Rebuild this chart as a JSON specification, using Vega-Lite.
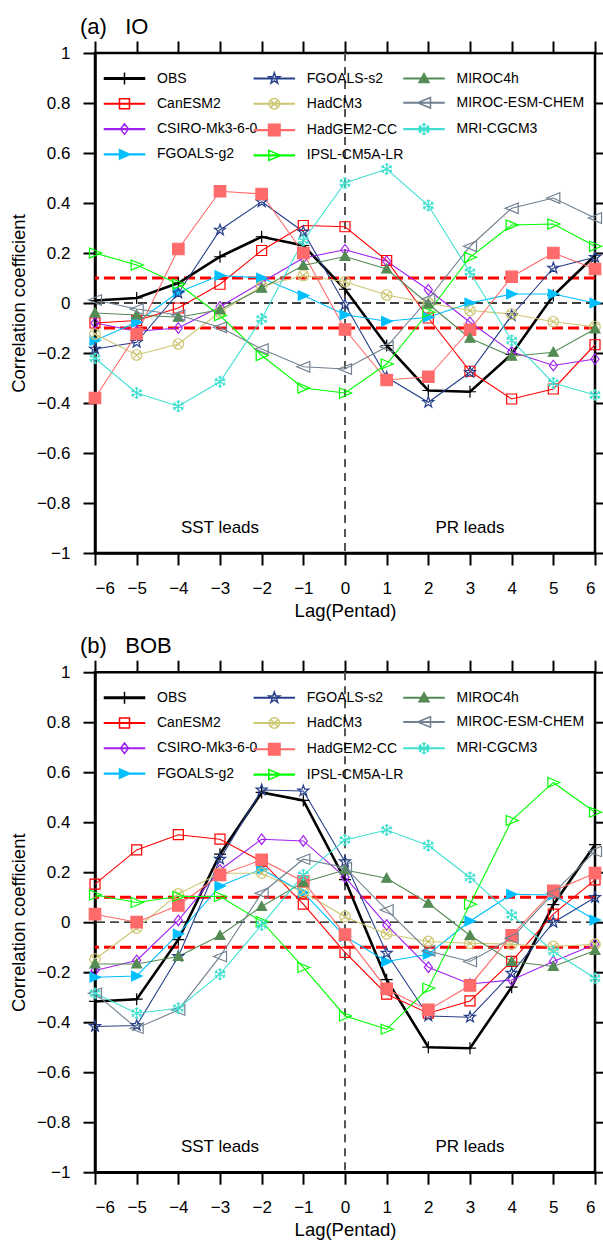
{
"$schema":"https://vega.github.io/schema/vega-lite/v6.json",
"background":"white",
"padding":{"left":8,"top":14,"right":0,"bottom":5},
"config":{
 "font":"Liberation Sans",
 "view":{"stroke":"black","strokeWidth":2.5},
 "axis":{"grid":false,"domainColor":"black","domainWidth":2.5,"tickColor":"black","tickWidth":2,"tickSize":12,"labelFontSize":17,"labelColor":"black","titleFontSize":18.5,"titleFontWeight":"normal","titleColor":"black","labelFont":"Liberation Sans","titleFont":"Liberation Sans"},
 "legend":{"labelFont":"Liberation Sans"},
 "title":{"fontWeight":"normal","color":"black","font":"Liberation Sans"}
},
"datasets":{
"io":[
{"model":"OBS","lag":-6,"r":0.01},{"model":"OBS","lag":-5,"r":0.02},{"model":"OBS","lag":-4,"r":0.08},{"model":"OBS","lag":-3,"r":0.185},{"model":"OBS","lag":-2,"r":0.265},{"model":"OBS","lag":-1,"r":0.23},{"model":"OBS","lag":0,"r":0.055},{"model":"OBS","lag":1,"r":-0.17},{"model":"OBS","lag":2,"r":-0.35},{"model":"OBS","lag":3,"r":-0.355},{"model":"OBS","lag":4,"r":-0.205},{"model":"OBS","lag":5,"r":0.03},{"model":"OBS","lag":6,"r":0.19},
{"model":"CanESM2","lag":-6,"r":-0.08},{"model":"CanESM2","lag":-5,"r":-0.07},{"model":"CanESM2","lag":-4,"r":-0.02},{"model":"CanESM2","lag":-3,"r":0.075},{"model":"CanESM2","lag":-2,"r":0.21},{"model":"CanESM2","lag":-1,"r":0.31},{"model":"CanESM2","lag":0,"r":0.305},{"model":"CanESM2","lag":1,"r":0.17},{"model":"CanESM2","lag":2,"r":-0.06},{"model":"CanESM2","lag":3,"r":-0.273},{"model":"CanESM2","lag":4,"r":-0.384},{"model":"CanESM2","lag":5,"r":-0.344},{"model":"CanESM2","lag":6,"r":-0.167},
{"model":"CSIRO-Mk3-6-0","lag":-6,"r":-0.08},{"model":"CSIRO-Mk3-6-0","lag":-5,"r":-0.113},{"model":"CSIRO-Mk3-6-0","lag":-4,"r":-0.1},{"model":"CSIRO-Mk3-6-0","lag":-3,"r":-0.015},{"model":"CSIRO-Mk3-6-0","lag":-2,"r":0.083},{"model":"CSIRO-Mk3-6-0","lag":-1,"r":0.18},{"model":"CSIRO-Mk3-6-0","lag":0,"r":0.213},{"model":"CSIRO-Mk3-6-0","lag":1,"r":0.167},{"model":"CSIRO-Mk3-6-0","lag":2,"r":0.053},{"model":"CSIRO-Mk3-6-0","lag":3,"r":-0.077},{"model":"CSIRO-Mk3-6-0","lag":4,"r":-0.195},{"model":"CSIRO-Mk3-6-0","lag":5,"r":-0.25},{"model":"CSIRO-Mk3-6-0","lag":6,"r":-0.224},
{"model":"FGOALS-g2","lag":-6,"r":-0.15},{"model":"FGOALS-g2","lag":-5,"r":-0.077},{"model":"FGOALS-g2","lag":-4,"r":0.043},{"model":"FGOALS-g2","lag":-3,"r":0.11},{"model":"FGOALS-g2","lag":-2,"r":0.1},{"model":"FGOALS-g2","lag":-1,"r":0.03},{"model":"FGOALS-g2","lag":0,"r":-0.047},{"model":"FGOALS-g2","lag":1,"r":-0.073},{"model":"FGOALS-g2","lag":2,"r":-0.057},{"model":"FGOALS-g2","lag":3,"r":0.0},{"model":"FGOALS-g2","lag":4,"r":0.036},{"model":"FGOALS-g2","lag":5,"r":0.036},{"model":"FGOALS-g2","lag":6,"r":0.0},
{"model":"FGOALS-s2","lag":-6,"r":-0.184},{"model":"FGOALS-s2","lag":-5,"r":-0.157},{"model":"FGOALS-s2","lag":-4,"r":0.04},{"model":"FGOALS-s2","lag":-3,"r":0.292},{"model":"FGOALS-s2","lag":-2,"r":0.405},{"model":"FGOALS-s2","lag":-1,"r":0.285},{"model":"FGOALS-s2","lag":0,"r":-0.006},{"model":"FGOALS-s2","lag":1,"r":-0.297},{"model":"FGOALS-s2","lag":2,"r":-0.397},{"model":"FGOALS-s2","lag":3,"r":-0.277},{"model":"FGOALS-s2","lag":4,"r":-0.05},{"model":"FGOALS-s2","lag":5,"r":0.14},{"model":"FGOALS-s2","lag":6,"r":0.183},
{"model":"HadCM3","lag":-6,"r":-0.124},{"model":"HadCM3","lag":-5,"r":-0.208},{"model":"HadCM3","lag":-4,"r":-0.164},{"model":"HadCM3","lag":-3,"r":-0.037},{"model":"HadCM3","lag":-2,"r":0.067},{"model":"HadCM3","lag":-1,"r":0.11},{"model":"HadCM3","lag":0,"r":0.085},{"model":"HadCM3","lag":1,"r":0.032},{"model":"HadCM3","lag":2,"r":0.0},{"model":"HadCM3","lag":3,"r":-0.03},{"model":"HadCM3","lag":4,"r":-0.044},{"model":"HadCM3","lag":5,"r":-0.075},{"model":"HadCM3","lag":6,"r":-0.095},
{"model":"HadGEM2-CC","lag":-6,"r":-0.38},{"model":"HadGEM2-CC","lag":-5,"r":-0.124},{"model":"HadGEM2-CC","lag":-4,"r":0.216},{"model":"HadGEM2-CC","lag":-3,"r":0.447},{"model":"HadGEM2-CC","lag":-2,"r":0.436},{"model":"HadGEM2-CC","lag":-1,"r":0.2},{"model":"HadGEM2-CC","lag":0,"r":-0.106},{"model":"HadGEM2-CC","lag":1,"r":-0.308},{"model":"HadGEM2-CC","lag":2,"r":-0.295},{"model":"HadGEM2-CC","lag":3,"r":-0.107},{"model":"HadGEM2-CC","lag":4,"r":0.105},{"model":"HadGEM2-CC","lag":5,"r":0.2},{"model":"HadGEM2-CC","lag":6,"r":0.136},
{"model":"IPSL-CM5A-LR","lag":-6,"r":0.2},{"model":"IPSL-CM5A-LR","lag":-5,"r":0.152},{"model":"IPSL-CM5A-LR","lag":-4,"r":0.076},{"model":"IPSL-CM5A-LR","lag":-3,"r":-0.05},{"model":"IPSL-CM5A-LR","lag":-2,"r":-0.21},{"model":"IPSL-CM5A-LR","lag":-1,"r":-0.34},{"model":"IPSL-CM5A-LR","lag":0,"r":-0.36},{"model":"IPSL-CM5A-LR","lag":1,"r":-0.244},{"model":"IPSL-CM5A-LR","lag":2,"r":-0.037},{"model":"IPSL-CM5A-LR","lag":3,"r":0.183},{"model":"IPSL-CM5A-LR","lag":4,"r":0.312},{"model":"IPSL-CM5A-LR","lag":5,"r":0.316},{"model":"IPSL-CM5A-LR","lag":6,"r":0.227},
{"model":"MIROC4h","lag":-6,"r":-0.04},{"model":"MIROC4h","lag":-5,"r":-0.048},{"model":"MIROC4h","lag":-4,"r":-0.057},{"model":"MIROC4h","lag":-3,"r":-0.027},{"model":"MIROC4h","lag":-2,"r":0.059},{"model":"MIROC4h","lag":-1,"r":0.15},{"model":"MIROC4h","lag":0,"r":0.186},{"model":"MIROC4h","lag":1,"r":0.136},{"model":"MIROC4h","lag":2,"r":-0.004},{"model":"MIROC4h","lag":3,"r":-0.141},{"model":"MIROC4h","lag":4,"r":-0.213},{"model":"MIROC4h","lag":5,"r":-0.197},{"model":"MIROC4h","lag":6,"r":-0.104},
{"model":"MIROC-ESM-CHEM","lag":-6,"r":0.012},{"model":"MIROC-ESM-CHEM","lag":-5,"r":-0.024},{"model":"MIROC-ESM-CHEM","lag":-4,"r":-0.048},{"model":"MIROC-ESM-CHEM","lag":-3,"r":-0.097},{"model":"MIROC-ESM-CHEM","lag":-2,"r":-0.184},{"model":"MIROC-ESM-CHEM","lag":-1,"r":-0.255},{"model":"MIROC-ESM-CHEM","lag":0,"r":-0.264},{"model":"MIROC-ESM-CHEM","lag":1,"r":-0.175},{"model":"MIROC-ESM-CHEM","lag":2,"r":0.016},{"model":"MIROC-ESM-CHEM","lag":3,"r":0.227},{"model":"MIROC-ESM-CHEM","lag":4,"r":0.379},{"model":"MIROC-ESM-CHEM","lag":5,"r":0.42},{"model":"MIROC-ESM-CHEM","lag":6,"r":0.34},
{"model":"MRI-CGCM3","lag":-6,"r":-0.221},{"model":"MRI-CGCM3","lag":-5,"r":-0.36},{"model":"MRI-CGCM3","lag":-4,"r":-0.413},{"model":"MRI-CGCM3","lag":-3,"r":-0.315},{"model":"MRI-CGCM3","lag":-2,"r":-0.064},{"model":"MRI-CGCM3","lag":-1,"r":0.25},{"model":"MRI-CGCM3","lag":0,"r":0.48},{"model":"MRI-CGCM3","lag":1,"r":0.536},{"model":"MRI-CGCM3","lag":2,"r":0.39},{"model":"MRI-CGCM3","lag":3,"r":0.123},{"model":"MRI-CGCM3","lag":4,"r":-0.15},{"model":"MRI-CGCM3","lag":5,"r":-0.32},{"model":"MRI-CGCM3","lag":6,"r":-0.368}
],
"bob":[
{"model":"OBS","lag":-6,"r":-0.317},{"model":"OBS","lag":-5,"r":-0.308},{"model":"OBS","lag":-4,"r":-0.07},{"model":"OBS","lag":-3,"r":0.272},{"model":"OBS","lag":-2,"r":0.519},{"model":"OBS","lag":-1,"r":0.487},{"model":"OBS","lag":0,"r":0.17},{"model":"OBS","lag":1,"r":-0.23},{"model":"OBS","lag":2,"r":-0.5},{"model":"OBS","lag":3,"r":-0.504},{"model":"OBS","lag":4,"r":-0.26},{"model":"OBS","lag":5,"r":0.07},{"model":"OBS","lag":6,"r":0.31},
{"model":"CanESM2","lag":-6,"r":0.152},{"model":"CanESM2","lag":-5,"r":0.289},{"model":"CanESM2","lag":-4,"r":0.35},{"model":"CanESM2","lag":-3,"r":0.332},{"model":"CanESM2","lag":-2,"r":0.243},{"model":"CanESM2","lag":-1,"r":0.072},{"model":"CanESM2","lag":0,"r":-0.121},{"model":"CanESM2","lag":1,"r":-0.288},{"model":"CanESM2","lag":2,"r":-0.364},{"model":"CanESM2","lag":3,"r":-0.315},{"model":"CanESM2","lag":4,"r":-0.157},{"model":"CanESM2","lag":5,"r":0.032},{"model":"CanESM2","lag":6,"r":0.169},
{"model":"CSIRO-Mk3-6-0","lag":-6,"r":-0.193},{"model":"CSIRO-Mk3-6-0","lag":-5,"r":-0.153},{"model":"CSIRO-Mk3-6-0","lag":-4,"r":0.007},{"model":"CSIRO-Mk3-6-0","lag":-3,"r":0.209},{"model":"CSIRO-Mk3-6-0","lag":-2,"r":0.332},{"model":"CSIRO-Mk3-6-0","lag":-1,"r":0.325},{"model":"CSIRO-Mk3-6-0","lag":0,"r":0.18},{"model":"CSIRO-Mk3-6-0","lag":1,"r":-0.011},{"model":"CSIRO-Mk3-6-0","lag":2,"r":-0.18},{"model":"CSIRO-Mk3-6-0","lag":3,"r":-0.247},{"model":"CSIRO-Mk3-6-0","lag":4,"r":-0.231},{"model":"CSIRO-Mk3-6-0","lag":5,"r":-0.157},{"model":"CSIRO-Mk3-6-0","lag":6,"r":-0.088},
{"model":"FGOALS-g2","lag":-6,"r":-0.22},{"model":"FGOALS-g2","lag":-5,"r":-0.215},{"model":"FGOALS-g2","lag":-4,"r":-0.047},{"model":"FGOALS-g2","lag":-3,"r":0.145},{"model":"FGOALS-g2","lag":-2,"r":0.212},{"model":"FGOALS-g2","lag":-1,"r":0.119},{"model":"FGOALS-g2","lag":0,"r":-0.057},{"model":"FGOALS-g2","lag":1,"r":-0.157},{"model":"FGOALS-g2","lag":2,"r":-0.128},{"model":"FGOALS-g2","lag":3,"r":0.005},{"model":"FGOALS-g2","lag":4,"r":0.112},{"model":"FGOALS-g2","lag":5,"r":0.109},{"model":"FGOALS-g2","lag":6,"r":0.009},
{"model":"FGOALS-s2","lag":-6,"r":-0.417},{"model":"FGOALS-s2","lag":-5,"r":-0.413},{"model":"FGOALS-s2","lag":-4,"r":-0.137},{"model":"FGOALS-s2","lag":-3,"r":0.252},{"model":"FGOALS-s2","lag":-2,"r":0.529},{"model":"FGOALS-s2","lag":-1,"r":0.525},{"model":"FGOALS-s2","lag":0,"r":0.242},{"model":"FGOALS-s2","lag":1,"r":-0.124},{"model":"FGOALS-s2","lag":2,"r":-0.375},{"model":"FGOALS-s2","lag":3,"r":-0.38},{"model":"FGOALS-s2","lag":4,"r":-0.204},{"model":"FGOALS-s2","lag":5,"r":-0.001},{"model":"FGOALS-s2","lag":6,"r":0.099},
{"model":"HadCM3","lag":-6,"r":-0.148},{"model":"HadCM3","lag":-5,"r":-0.024},{"model":"HadCM3","lag":-4,"r":0.113},{"model":"HadCM3","lag":-3,"r":0.196},{"model":"HadCM3","lag":-2,"r":0.196},{"model":"HadCM3","lag":-1,"r":0.12},{"model":"HadCM3","lag":0,"r":0.022},{"model":"HadCM3","lag":1,"r":-0.047},{"model":"HadCM3","lag":2,"r":-0.077},{"model":"HadCM3","lag":3,"r":-0.084},{"model":"HadCM3","lag":4,"r":-0.088},{"model":"HadCM3","lag":5,"r":-0.097},{"model":"HadCM3","lag":6,"r":-0.088},
{"model":"HadGEM2-CC","lag":-6,"r":0.032},{"model":"HadGEM2-CC","lag":-5,"r":0.0},{"model":"HadGEM2-CC","lag":-4,"r":0.067},{"model":"HadGEM2-CC","lag":-3,"r":0.189},{"model":"HadGEM2-CC","lag":-2,"r":0.249},{"model":"HadGEM2-CC","lag":-1,"r":0.163},{"model":"HadGEM2-CC","lag":0,"r":-0.05},{"model":"HadGEM2-CC","lag":1,"r":-0.267},{"model":"HadGEM2-CC","lag":2,"r":-0.351},{"model":"HadGEM2-CC","lag":3,"r":-0.253},{"model":"HadGEM2-CC","lag":4,"r":-0.053},{"model":"HadGEM2-CC","lag":5,"r":0.125},{"model":"HadGEM2-CC","lag":6,"r":0.196},
{"model":"IPSL-CM5A-LR","lag":-6,"r":0.109},{"model":"IPSL-CM5A-LR","lag":-5,"r":0.079},{"model":"IPSL-CM5A-LR","lag":-4,"r":0.103},{"model":"IPSL-CM5A-LR","lag":-3,"r":0.103},{"model":"IPSL-CM5A-LR","lag":-2,"r":0.003},{"model":"IPSL-CM5A-LR","lag":-1,"r":-0.181},{"model":"IPSL-CM5A-LR","lag":0,"r":-0.375},{"model":"IPSL-CM5A-LR","lag":1,"r":-0.428},{"model":"IPSL-CM5A-LR","lag":2,"r":-0.264},{"model":"IPSL-CM5A-LR","lag":3,"r":0.072},{"model":"IPSL-CM5A-LR","lag":4,"r":0.407},{"model":"IPSL-CM5A-LR","lag":5,"r":0.559},{"model":"IPSL-CM5A-LR","lag":6,"r":0.44},
{"model":"MIROC4h","lag":-6,"r":-0.167},{"model":"MIROC4h","lag":-5,"r":-0.167},{"model":"MIROC4h","lag":-4,"r":-0.137},{"model":"MIROC4h","lag":-3,"r":-0.053},{"model":"MIROC4h","lag":-2,"r":0.063},{"model":"MIROC4h","lag":-1,"r":0.16},{"model":"MIROC4h","lag":0,"r":0.209},{"model":"MIROC4h","lag":1,"r":0.176},{"model":"MIROC4h","lag":2,"r":0.076},{"model":"MIROC4h","lag":3,"r":-0.053},{"model":"MIROC4h","lag":4,"r":-0.157},{"model":"MIROC4h","lag":5,"r":-0.177},{"model":"MIROC4h","lag":6,"r":-0.113},
{"model":"MIROC-ESM-CHEM","lag":-6,"r":-0.284},{"model":"MIROC-ESM-CHEM","lag":-5,"r":-0.424},{"model":"MIROC-ESM-CHEM","lag":-4,"r":-0.351},{"model":"MIROC-ESM-CHEM","lag":-3,"r":-0.137},{"model":"MIROC-ESM-CHEM","lag":-2,"r":0.116},{"model":"MIROC-ESM-CHEM","lag":-1,"r":0.252},{"model":"MIROC-ESM-CHEM","lag":0,"r":0.219},{"model":"MIROC-ESM-CHEM","lag":1,"r":0.049},{"model":"MIROC-ESM-CHEM","lag":2,"r":-0.115},{"model":"MIROC-ESM-CHEM","lag":3,"r":-0.157},{"model":"MIROC-ESM-CHEM","lag":4,"r":-0.064},{"model":"MIROC-ESM-CHEM","lag":5,"r":0.116},{"model":"MIROC-ESM-CHEM","lag":6,"r":0.283},
{"model":"MRI-CGCM3","lag":-6,"r":-0.284},{"model":"MRI-CGCM3","lag":-5,"r":-0.364},{"model":"MRI-CGCM3","lag":-4,"r":-0.344},{"model":"MRI-CGCM3","lag":-3,"r":-0.208},{"model":"MRI-CGCM3","lag":-2,"r":-0.011},{"model":"MRI-CGCM3","lag":-1,"r":0.189},{"model":"MRI-CGCM3","lag":0,"r":0.329},{"model":"MRI-CGCM3","lag":1,"r":0.369},{"model":"MRI-CGCM3","lag":2,"r":0.307},{"model":"MRI-CGCM3","lag":3,"r":0.179},{"model":"MRI-CGCM3","lag":4,"r":0.029},{"model":"MRI-CGCM3","lag":5,"r":-0.117},{"model":"MRI-CGCM3","lag":6,"r":-0.224}
]
},
"spacing":119.2,
"bounds":"flush",
"resolve":{"scale":{"stroke":"independent","shape":"independent","fill":"independent","strokeWidth":"independent"}},
"vconcat":[
{
 "width":500,"height":500,
 "title":{"text":"(a)\u00a0\u00a0\u00a0IO","anchor":"start","frame":"group","fontSize":22,"dx":-15,"offset":-16,"baseline":"alphabetic"},
 "data":{"name":"io"},
 "resolve":{"axis":{"x":"independent","y":"independent"},"scale":{"stroke":"independent"}},
 "layer":[
  {"data":{"values":[{}]},"mark":{"type":"rule","color":"#FF0000","strokeWidth":3,"strokeDash":[11,5]},"encoding":{"y":{"datum":0.1,"type":"quantitative","scale":{"domain":[-1,1],"nice":false},"axis":null}}},
  {"data":{"values":[{}]},"mark":{"type":"rule","color":"#FF0000","strokeWidth":3,"strokeDash":[11,5]},"encoding":{"y":{"datum":-0.1,"type":"quantitative","scale":{"domain":[-1,1],"nice":false},"axis":null}}},
  {"data":{"values":[{}]},"mark":{"type":"rule","color":"black","strokeWidth":1.3,"strokeDash":[9,5]},"encoding":{"y":{"datum":0,"type":"quantitative","scale":{"domain":[-1,1],"nice":false},"axis":{"orient":"right","values":[-1,-0.8,-0.6,-0.4,-0.2,0,0.2,0.4,0.6,0.8,1],"labels":false,"title":null,"domain":false}}}},
  {"data":{"values":[{}]},"mark":{"type":"rule","color":"#555555","strokeWidth":2,"strokeDash":[8,6]},"encoding":{"x":{"datum":0,"type":"quantitative","scale":{"domain":[-6,6],"nice":false,"zero":false},"axis":{"orient":"top","values":[-6,-5,-4,-3,-2,-1,0,1,2,3,4,5,6],"labels":false,"title":null,"domain":false}}}},
  {"transform":[{"filter":{"field":"model","oneOf":["OBS","CanESM2","CSIRO-Mk3-6-0","FGOALS-g2"]}}],
   "mark":{"type":"line"},
   "encoding":{
    "x":{"field":"lag","type":"quantitative","scale":{"domain":[-6,6],"nice":false,"zero":false},"axis":{"orient":"bottom","values":[-6,-5,-4,-3,-2,-1,0,1,2,3,4,5,6],"format":"d","title":"Lag(Pentad)","labelPadding":15,"titlePadding":5}},
    "y":{"field":"r","type":"quantitative","scale":{"domain":[-1,1],"nice":false},"axis":{"orient":"left","values":[-1,-0.8,-0.6,-0.4,-0.2,0,0.2,0.4,0.6,0.8,1],"format":".1~f","title":"Correlation coefficient","labelPadding":13,"titlePadding":8}},
    "stroke":{"field":"model","type":"nominal","scale":{"domain":["OBS","CanESM2","CSIRO-Mk3-6-0","FGOALS-g2"],"range":["#000000","#FF0000","#A020F0","#00BFFF"]},
     "legend":{"title":null,"orient":"none","legendX":8.5,"legendY":17.5,"direction":"vertical","columns":1,"rowPadding":8.3,"padding":0,"labelFontSize":14,"labelColor":"black","labelLimit":400,"symbolSize":100,
      "encode":{"symbols":{"update":{
       "shape":{"signal":"['M-1.2,0H1.2M0,-1.2V1.2M-4,-0.14H4V0.14H-4Z','M-1,-1H1V1H-1ZM-4,-0.06H4V0.06H-4Z','M0,-1.05L0.8,0L0,1.05L-0.8,0ZM-4,-0.06H4V0.06H-4Z','M-1,-0.95L1.1,0L-1,0.95ZM-4,-0.06H4V0.06H-4Z','M0,-1.15L0.27,-0.373L1.094,-0.355L0.437,0.143L0.676,0.93L0,0.46L-0.676,0.93L-0.437,0.143L-1.094,-0.355L-0.27,-0.373ZM-4,-0.06H4V0.06H-4Z','M1.05,0A1.05,1.05,0,1,1,-1.05,0A1.05,1.05,0,1,1,1.05,0ZM-0.74,-0.74L0.74,0.74M-0.74,0.74L0.74,-0.74M-4,-0.06H4V0.06H-4Z','M-1.15,-1.15H1.15V1.15H-1.15ZM-4,-0.06H4V0.06H-4Z','M-1.1,-1L1.3,0L-1.1,1ZM-4,-0.06H4V0.06H-4Z','M0,-1L1,0.8H-1ZM-4,-0.06H4V0.06H-4Z','M1.3,-1.05L-1.3,0L1.3,1.05ZM-4,-0.06H4V0.06H-4Z','M0,-1.2V1.2M-1.04,-0.6L1.04,0.6M-1.04,0.6L1.04,-0.6M0.336,-1.02L0,-0.72L-0.336,-1.02M-0.336,1.02L0,0.72L0.336,1.02M1.051,-0.22L0.624,-0.36L0.715,-0.8M0.715,0.8L0.624,0.36L1.051,0.22M-0.715,0.8L-0.624,0.36L-1.051,0.22M-1.051,-0.22L-0.624,-0.36L-0.715,-0.8M-4,-0.06H4V0.06H-4Z'][indexof(['OBS','CanESM2','CSIRO-Mk3-6-0','FGOALS-g2','FGOALS-s2','HadCM3','HadGEM2-CC','IPSL-CM5A-LR','MIROC4h','MIROC-ESM-CHEM','MRI-CGCM3'], datum.value)]"},
       "stroke":{"signal":"['#000000','#FF0000','#A020F0','#00BFFF','#27408B','#CDC673','#FF6A6A','#00FF00','#548B54','#708090','#40E0D0'][indexof(['OBS','CanESM2','CSIRO-Mk3-6-0','FGOALS-g2','FGOALS-s2','HadCM3','HadGEM2-CC','IPSL-CM5A-LR','MIROC4h','MIROC-ESM-CHEM','MRI-CGCM3'], datum.value)]"},
       "fill":{"signal":"['transparent','transparent','transparent','#00BFFF','transparent','transparent','#FF6A6A','transparent','#548B54','transparent','transparent'][indexof(['OBS','CanESM2','CSIRO-Mk3-6-0','FGOALS-g2','FGOALS-s2','HadCM3','HadGEM2-CC','IPSL-CM5A-LR','MIROC4h','MIROC-ESM-CHEM','MRI-CGCM3'], datum.value)]"},
       "strokeWidth":{"value":1.5},"size":{"value":100},"opacity":{"value":1},"x":{"value":21},"y":{"value":8}}},
       "labels":{"update":{"x":{"value":53.5},"y":{"value":8},"baseline":{"value":"middle"}}}}}},
    "strokeWidth":{"field":"model","type":"nominal","scale":{"type":"ordinal","domain":["MRI-CGCM3","MIROC-ESM-CHEM","MIROC4h","IPSL-CM5A-LR","HadGEM2-CC","HadCM3","FGOALS-s2","FGOALS-g2","CSIRO-Mk3-6-0","CanESM2","OBS"],"range":[1.1,1.1,1.1,1.1,1.1,1.1,1.1,1.1,1.1,1.1,2.6]},"legend":null}
   }},
  {"transform":[{"filter":{"field":"model","oneOf":["FGOALS-s2","HadCM3","HadGEM2-CC","IPSL-CM5A-LR"]}}],
   "mark":{"type":"line","strokeWidth":1.1},
   "encoding":{
    "x":{"field":"lag","type":"quantitative","axis":null},
    "y":{"field":"r","type":"quantitative","axis":null},
    "stroke":{"field":"model","type":"nominal","scale":{"domain":["FGOALS-s2","HadCM3","HadGEM2-CC","IPSL-CM5A-LR"],"range":["#27408B","#CDC673","#FF6A6A","#00FF00"]},
     "legend":{"title":null,"orient":"none","legendX":158.3,"legendY":17.5,"direction":"vertical","columns":1,"rowPadding":8.3,"padding":0,"labelFontSize":14,"labelColor":"black","labelLimit":400,"symbolSize":100,
      "encode":{"symbols":{"update":{
       "shape":{"signal":"['M-1.2,0H1.2M0,-1.2V1.2M-4,-0.14H4V0.14H-4Z','M-1,-1H1V1H-1ZM-4,-0.06H4V0.06H-4Z','M0,-1.05L0.8,0L0,1.05L-0.8,0ZM-4,-0.06H4V0.06H-4Z','M-1,-0.95L1.1,0L-1,0.95ZM-4,-0.06H4V0.06H-4Z','M0,-1.15L0.27,-0.373L1.094,-0.355L0.437,0.143L0.676,0.93L0,0.46L-0.676,0.93L-0.437,0.143L-1.094,-0.355L-0.27,-0.373ZM-4,-0.06H4V0.06H-4Z','M1.05,0A1.05,1.05,0,1,1,-1.05,0A1.05,1.05,0,1,1,1.05,0ZM-0.74,-0.74L0.74,0.74M-0.74,0.74L0.74,-0.74M-4,-0.06H4V0.06H-4Z','M-1.15,-1.15H1.15V1.15H-1.15ZM-4,-0.06H4V0.06H-4Z','M-1.1,-1L1.3,0L-1.1,1ZM-4,-0.06H4V0.06H-4Z','M0,-1L1,0.8H-1ZM-4,-0.06H4V0.06H-4Z','M1.3,-1.05L-1.3,0L1.3,1.05ZM-4,-0.06H4V0.06H-4Z','M0,-1.2V1.2M-1.04,-0.6L1.04,0.6M-1.04,0.6L1.04,-0.6M0.336,-1.02L0,-0.72L-0.336,-1.02M-0.336,1.02L0,0.72L0.336,1.02M1.051,-0.22L0.624,-0.36L0.715,-0.8M0.715,0.8L0.624,0.36L1.051,0.22M-0.715,0.8L-0.624,0.36L-1.051,0.22M-1.051,-0.22L-0.624,-0.36L-0.715,-0.8M-4,-0.06H4V0.06H-4Z'][indexof(['OBS','CanESM2','CSIRO-Mk3-6-0','FGOALS-g2','FGOALS-s2','HadCM3','HadGEM2-CC','IPSL-CM5A-LR','MIROC4h','MIROC-ESM-CHEM','MRI-CGCM3'], datum.value)]"},
       "stroke":{"signal":"['#000000','#FF0000','#A020F0','#00BFFF','#27408B','#CDC673','#FF6A6A','#00FF00','#548B54','#708090','#40E0D0'][indexof(['OBS','CanESM2','CSIRO-Mk3-6-0','FGOALS-g2','FGOALS-s2','HadCM3','HadGEM2-CC','IPSL-CM5A-LR','MIROC4h','MIROC-ESM-CHEM','MRI-CGCM3'], datum.value)]"},
       "fill":{"signal":"['transparent','transparent','transparent','#00BFFF','transparent','transparent','#FF6A6A','transparent','#548B54','transparent','transparent'][indexof(['OBS','CanESM2','CSIRO-Mk3-6-0','FGOALS-g2','FGOALS-s2','HadCM3','HadGEM2-CC','IPSL-CM5A-LR','MIROC4h','MIROC-ESM-CHEM','MRI-CGCM3'], datum.value)]"},
       "strokeWidth":{"value":1.5},"size":{"value":100},"opacity":{"value":1},"x":{"value":21},"y":{"value":8}}},
       "labels":{"update":{"x":{"value":53.5},"y":{"value":8},"baseline":{"value":"middle"}}}}}}
   }},
  {"transform":[{"filter":{"field":"model","oneOf":["MIROC4h","MIROC-ESM-CHEM","MRI-CGCM3"]}}],
   "mark":{"type":"line","strokeWidth":1.1},
   "encoding":{
    "x":{"field":"lag","type":"quantitative","axis":null},
    "y":{"field":"r","type":"quantitative","axis":null},
    "stroke":{"field":"model","type":"nominal","scale":{"domain":["MIROC4h","MIROC-ESM-CHEM","MRI-CGCM3"],"range":["#548B54","#708090","#40E0D0"]},
     "legend":{"title":null,"orient":"none","legendX":308,"legendY":17.5,"direction":"vertical","columns":1,"rowPadding":8.3,"padding":0,"labelFontSize":14,"labelColor":"black","labelLimit":400,"symbolSize":100,
      "encode":{"symbols":{"update":{
       "shape":{"signal":"['M-1.2,0H1.2M0,-1.2V1.2M-4,-0.14H4V0.14H-4Z','M-1,-1H1V1H-1ZM-4,-0.06H4V0.06H-4Z','M0,-1.05L0.8,0L0,1.05L-0.8,0ZM-4,-0.06H4V0.06H-4Z','M-1,-0.95L1.1,0L-1,0.95ZM-4,-0.06H4V0.06H-4Z','M0,-1.15L0.27,-0.373L1.094,-0.355L0.437,0.143L0.676,0.93L0,0.46L-0.676,0.93L-0.437,0.143L-1.094,-0.355L-0.27,-0.373ZM-4,-0.06H4V0.06H-4Z','M1.05,0A1.05,1.05,0,1,1,-1.05,0A1.05,1.05,0,1,1,1.05,0ZM-0.74,-0.74L0.74,0.74M-0.74,0.74L0.74,-0.74M-4,-0.06H4V0.06H-4Z','M-1.15,-1.15H1.15V1.15H-1.15ZM-4,-0.06H4V0.06H-4Z','M-1.1,-1L1.3,0L-1.1,1ZM-4,-0.06H4V0.06H-4Z','M0,-1L1,0.8H-1ZM-4,-0.06H4V0.06H-4Z','M1.3,-1.05L-1.3,0L1.3,1.05ZM-4,-0.06H4V0.06H-4Z','M0,-1.2V1.2M-1.04,-0.6L1.04,0.6M-1.04,0.6L1.04,-0.6M0.336,-1.02L0,-0.72L-0.336,-1.02M-0.336,1.02L0,0.72L0.336,1.02M1.051,-0.22L0.624,-0.36L0.715,-0.8M0.715,0.8L0.624,0.36L1.051,0.22M-0.715,0.8L-0.624,0.36L-1.051,0.22M-1.051,-0.22L-0.624,-0.36L-0.715,-0.8M-4,-0.06H4V0.06H-4Z'][indexof(['OBS','CanESM2','CSIRO-Mk3-6-0','FGOALS-g2','FGOALS-s2','HadCM3','HadGEM2-CC','IPSL-CM5A-LR','MIROC4h','MIROC-ESM-CHEM','MRI-CGCM3'], datum.value)]"},
       "stroke":{"signal":"['#000000','#FF0000','#A020F0','#00BFFF','#27408B','#CDC673','#FF6A6A','#00FF00','#548B54','#708090','#40E0D0'][indexof(['OBS','CanESM2','CSIRO-Mk3-6-0','FGOALS-g2','FGOALS-s2','HadCM3','HadGEM2-CC','IPSL-CM5A-LR','MIROC4h','MIROC-ESM-CHEM','MRI-CGCM3'], datum.value)]"},
       "fill":{"signal":"['transparent','transparent','transparent','#00BFFF','transparent','transparent','#FF6A6A','transparent','#548B54','transparent','transparent'][indexof(['OBS','CanESM2','CSIRO-Mk3-6-0','FGOALS-g2','FGOALS-s2','HadCM3','HadGEM2-CC','IPSL-CM5A-LR','MIROC4h','MIROC-ESM-CHEM','MRI-CGCM3'], datum.value)]"},
       "strokeWidth":{"value":1.5},"size":{"value":100},"opacity":{"value":1},"x":{"value":21},"y":{"value":8}}},
       "labels":{"update":{"x":{"value":53.5},"y":{"value":8},"baseline":{"value":"middle"}}}}}}
   }},
  {"mark":{"type":"point","size":100,"strokeWidth":1.2,"opacity":1},
   "encoding":{
    "x":{"field":"lag","type":"quantitative","axis":null},
    "y":{"field":"r","type":"quantitative","axis":null},
    "stroke":{"field":"model","type":"nominal","scale":{"domain":["CSIRO-Mk3-6-0","FGOALS-g2","FGOALS-s2","HadCM3","HadGEM2-CC","IPSL-CM5A-LR","MIROC4h","MIROC-ESM-CHEM","MRI-CGCM3","OBS","CanESM2"],"range":["#A020F0","#00BFFF","#27408B","#CDC673","#FF6A6A","#00FF00","#548B54","#708090","#40E0D0","#000000","#FF0000"]},"legend":null},
    "fill":{"field":"model","type":"nominal","scale":{"domain":["FGOALS-g2","FGOALS-s2","HadCM3","HadGEM2-CC","IPSL-CM5A-LR","MIROC4h","MIROC-ESM-CHEM","MRI-CGCM3","OBS","CanESM2","CSIRO-Mk3-6-0"],"range":["#00BFFF","transparent","transparent","#FF6A6A","transparent","#548B54","transparent","transparent","transparent","transparent","transparent"]},"legend":null},
    "shape":{"field":"model","type":"nominal","scale":{"domain":["OBS","CanESM2","CSIRO-Mk3-6-0","FGOALS-g2","FGOALS-s2","HadCM3","HadGEM2-CC","IPSL-CM5A-LR","MIROC4h","MIROC-ESM-CHEM","MRI-CGCM3"],"range":["M-1.2,0H1.2M0,-1.2V1.2","M-1,-1H1V1H-1Z","M0,-1.05L0.8,0L0,1.05L-0.8,0Z","M-1,-0.95L1.1,0L-1,0.95Z","M0,-1.15L0.27,-0.373L1.094,-0.355L0.437,0.143L0.676,0.93L0,0.46L-0.676,0.93L-0.437,0.143L-1.094,-0.355L-0.27,-0.373Z","M1.05,0A1.05,1.05,0,1,1,-1.05,0A1.05,1.05,0,1,1,1.05,0ZM-0.74,-0.74L0.74,0.74M-0.74,0.74L0.74,-0.74","M-1.15,-1.15H1.15V1.15H-1.15Z","M-1.1,-1L1.3,0L-1.1,1Z","M0,-1L1,0.8H-1Z","M1.3,-1.05L-1.3,0L1.3,1.05Z","M0,-1.2V1.2M-1.04,-0.6L1.04,0.6M-1.04,0.6L1.04,-0.6M0.336,-1.02L0,-0.72L-0.336,-1.02M-0.336,1.02L0,0.72L0.336,1.02M1.051,-0.22L0.624,-0.36L0.715,-0.8M0.715,0.8L0.624,0.36L1.051,0.22M-0.715,0.8L-0.624,0.36L-1.051,0.22M-1.051,-0.22L-0.624,-0.36L-0.715,-0.8"]},"legend":null}
   }},
  {"data":{"values":[{}]},"mark":{"type":"text","text":"SST leads","fontSize":17,"baseline":"middle","align":"center","color":"black"},"encoding":{"x":{"datum":-3,"type":"quantitative","axis":null},"y":{"datum":-0.9,"type":"quantitative","axis":null}}},
  {"data":{"values":[{}]},"mark":{"type":"text","text":"PR leads","fontSize":17,"baseline":"middle","align":"center","color":"black"},"encoding":{"x":{"datum":3,"type":"quantitative","axis":null},"y":{"datum":-0.9,"type":"quantitative","axis":null}}}
 ]
},
{
 "width":500,"height":500,
 "title":{"text":"(b)\u00a0\u00a0\u00a0BOB","anchor":"start","frame":"group","fontSize":22,"dx":-15,"offset":-16,"baseline":"alphabetic"},
 "data":{"name":"bob"},
 "resolve":{"axis":{"x":"independent","y":"independent"},"scale":{"stroke":"independent"}},
 "layer":[
  {"data":{"values":[{}]},"mark":{"type":"rule","color":"#FF0000","strokeWidth":3,"strokeDash":[11,5]},"encoding":{"y":{"datum":0.1,"type":"quantitative","scale":{"domain":[-1,1],"nice":false},"axis":null}}},
  {"data":{"values":[{}]},"mark":{"type":"rule","color":"#FF0000","strokeWidth":3,"strokeDash":[11,5]},"encoding":{"y":{"datum":-0.1,"type":"quantitative","scale":{"domain":[-1,1],"nice":false},"axis":null}}},
  {"data":{"values":[{}]},"mark":{"type":"rule","color":"black","strokeWidth":1.3,"strokeDash":[9,5]},"encoding":{"y":{"datum":0,"type":"quantitative","scale":{"domain":[-1,1],"nice":false},"axis":{"orient":"right","values":[-1,-0.8,-0.6,-0.4,-0.2,0,0.2,0.4,0.6,0.8,1],"labels":false,"title":null,"domain":false}}}},
  {"data":{"values":[{}]},"mark":{"type":"rule","color":"#555555","strokeWidth":2,"strokeDash":[8,6]},"encoding":{"x":{"datum":0,"type":"quantitative","scale":{"domain":[-6,6],"nice":false,"zero":false},"axis":{"orient":"top","values":[-6,-5,-4,-3,-2,-1,0,1,2,3,4,5,6],"labels":false,"title":null,"domain":false}}}},
  {"transform":[{"filter":{"field":"model","oneOf":["OBS","CanESM2","CSIRO-Mk3-6-0","FGOALS-g2"]}}],
   "mark":{"type":"line"},
   "encoding":{
    "x":{"field":"lag","type":"quantitative","scale":{"domain":[-6,6],"nice":false,"zero":false},"axis":{"orient":"bottom","values":[-6,-5,-4,-3,-2,-1,0,1,2,3,4,5,6],"format":"d","title":"Lag(Pentad)","labelPadding":15,"titlePadding":5}},
    "y":{"field":"r","type":"quantitative","scale":{"domain":[-1,1],"nice":false},"axis":{"orient":"left","values":[-1,-0.8,-0.6,-0.4,-0.2,0,0.2,0.4,0.6,0.8,1],"format":".1~f","title":"Correlation coefficient","labelPadding":13,"titlePadding":8}},
    "stroke":{"field":"model","type":"nominal","scale":{"domain":["OBS","CanESM2","CSIRO-Mk3-6-0","FGOALS-g2"],"range":["#000000","#FF0000","#A020F0","#00BFFF"]},
     "legend":{"title":null,"orient":"none","legendX":8.5,"legendY":17.5,"direction":"vertical","columns":1,"rowPadding":8.3,"padding":0,"labelFontSize":14,"labelColor":"black","labelLimit":400,"symbolSize":100,
      "encode":{"symbols":{"update":{
       "shape":{"signal":"['M-1.2,0H1.2M0,-1.2V1.2M-4,-0.14H4V0.14H-4Z','M-1,-1H1V1H-1ZM-4,-0.06H4V0.06H-4Z','M0,-1.05L0.8,0L0,1.05L-0.8,0ZM-4,-0.06H4V0.06H-4Z','M-1,-0.95L1.1,0L-1,0.95ZM-4,-0.06H4V0.06H-4Z','M0,-1.15L0.27,-0.373L1.094,-0.355L0.437,0.143L0.676,0.93L0,0.46L-0.676,0.93L-0.437,0.143L-1.094,-0.355L-0.27,-0.373ZM-4,-0.06H4V0.06H-4Z','M1.05,0A1.05,1.05,0,1,1,-1.05,0A1.05,1.05,0,1,1,1.05,0ZM-0.74,-0.74L0.74,0.74M-0.74,0.74L0.74,-0.74M-4,-0.06H4V0.06H-4Z','M-1.15,-1.15H1.15V1.15H-1.15ZM-4,-0.06H4V0.06H-4Z','M-1.1,-1L1.3,0L-1.1,1ZM-4,-0.06H4V0.06H-4Z','M0,-1L1,0.8H-1ZM-4,-0.06H4V0.06H-4Z','M1.3,-1.05L-1.3,0L1.3,1.05ZM-4,-0.06H4V0.06H-4Z','M0,-1.2V1.2M-1.04,-0.6L1.04,0.6M-1.04,0.6L1.04,-0.6M0.336,-1.02L0,-0.72L-0.336,-1.02M-0.336,1.02L0,0.72L0.336,1.02M1.051,-0.22L0.624,-0.36L0.715,-0.8M0.715,0.8L0.624,0.36L1.051,0.22M-0.715,0.8L-0.624,0.36L-1.051,0.22M-1.051,-0.22L-0.624,-0.36L-0.715,-0.8M-4,-0.06H4V0.06H-4Z'][indexof(['OBS','CanESM2','CSIRO-Mk3-6-0','FGOALS-g2','FGOALS-s2','HadCM3','HadGEM2-CC','IPSL-CM5A-LR','MIROC4h','MIROC-ESM-CHEM','MRI-CGCM3'], datum.value)]"},
       "stroke":{"signal":"['#000000','#FF0000','#A020F0','#00BFFF','#27408B','#CDC673','#FF6A6A','#00FF00','#548B54','#708090','#40E0D0'][indexof(['OBS','CanESM2','CSIRO-Mk3-6-0','FGOALS-g2','FGOALS-s2','HadCM3','HadGEM2-CC','IPSL-CM5A-LR','MIROC4h','MIROC-ESM-CHEM','MRI-CGCM3'], datum.value)]"},
       "fill":{"signal":"['transparent','transparent','transparent','#00BFFF','transparent','transparent','#FF6A6A','transparent','#548B54','transparent','transparent'][indexof(['OBS','CanESM2','CSIRO-Mk3-6-0','FGOALS-g2','FGOALS-s2','HadCM3','HadGEM2-CC','IPSL-CM5A-LR','MIROC4h','MIROC-ESM-CHEM','MRI-CGCM3'], datum.value)]"},
       "strokeWidth":{"value":1.5},"size":{"value":100},"opacity":{"value":1},"x":{"value":21},"y":{"value":8}}},
       "labels":{"update":{"x":{"value":53.5},"y":{"value":8},"baseline":{"value":"middle"}}}}}},
    "strokeWidth":{"field":"model","type":"nominal","scale":{"type":"ordinal","domain":["MRI-CGCM3","MIROC-ESM-CHEM","MIROC4h","IPSL-CM5A-LR","HadGEM2-CC","HadCM3","FGOALS-s2","FGOALS-g2","CSIRO-Mk3-6-0","CanESM2","OBS"],"range":[1.1,1.1,1.1,1.1,1.1,1.1,1.1,1.1,1.1,1.1,2.6]},"legend":null}
   }},
  {"transform":[{"filter":{"field":"model","oneOf":["FGOALS-s2","HadCM3","HadGEM2-CC","IPSL-CM5A-LR"]}}],
   "mark":{"type":"line","strokeWidth":1.1},
   "encoding":{
    "x":{"field":"lag","type":"quantitative","axis":null},
    "y":{"field":"r","type":"quantitative","axis":null},
    "stroke":{"field":"model","type":"nominal","scale":{"domain":["FGOALS-s2","HadCM3","HadGEM2-CC","IPSL-CM5A-LR"],"range":["#27408B","#CDC673","#FF6A6A","#00FF00"]},
     "legend":{"title":null,"orient":"none","legendX":158.3,"legendY":17.5,"direction":"vertical","columns":1,"rowPadding":8.3,"padding":0,"labelFontSize":14,"labelColor":"black","labelLimit":400,"symbolSize":100,
      "encode":{"symbols":{"update":{
       "shape":{"signal":"['M-1.2,0H1.2M0,-1.2V1.2M-4,-0.14H4V0.14H-4Z','M-1,-1H1V1H-1ZM-4,-0.06H4V0.06H-4Z','M0,-1.05L0.8,0L0,1.05L-0.8,0ZM-4,-0.06H4V0.06H-4Z','M-1,-0.95L1.1,0L-1,0.95ZM-4,-0.06H4V0.06H-4Z','M0,-1.15L0.27,-0.373L1.094,-0.355L0.437,0.143L0.676,0.93L0,0.46L-0.676,0.93L-0.437,0.143L-1.094,-0.355L-0.27,-0.373ZM-4,-0.06H4V0.06H-4Z','M1.05,0A1.05,1.05,0,1,1,-1.05,0A1.05,1.05,0,1,1,1.05,0ZM-0.74,-0.74L0.74,0.74M-0.74,0.74L0.74,-0.74M-4,-0.06H4V0.06H-4Z','M-1.15,-1.15H1.15V1.15H-1.15ZM-4,-0.06H4V0.06H-4Z','M-1.1,-1L1.3,0L-1.1,1ZM-4,-0.06H4V0.06H-4Z','M0,-1L1,0.8H-1ZM-4,-0.06H4V0.06H-4Z','M1.3,-1.05L-1.3,0L1.3,1.05ZM-4,-0.06H4V0.06H-4Z','M0,-1.2V1.2M-1.04,-0.6L1.04,0.6M-1.04,0.6L1.04,-0.6M0.336,-1.02L0,-0.72L-0.336,-1.02M-0.336,1.02L0,0.72L0.336,1.02M1.051,-0.22L0.624,-0.36L0.715,-0.8M0.715,0.8L0.624,0.36L1.051,0.22M-0.715,0.8L-0.624,0.36L-1.051,0.22M-1.051,-0.22L-0.624,-0.36L-0.715,-0.8M-4,-0.06H4V0.06H-4Z'][indexof(['OBS','CanESM2','CSIRO-Mk3-6-0','FGOALS-g2','FGOALS-s2','HadCM3','HadGEM2-CC','IPSL-CM5A-LR','MIROC4h','MIROC-ESM-CHEM','MRI-CGCM3'], datum.value)]"},
       "stroke":{"signal":"['#000000','#FF0000','#A020F0','#00BFFF','#27408B','#CDC673','#FF6A6A','#00FF00','#548B54','#708090','#40E0D0'][indexof(['OBS','CanESM2','CSIRO-Mk3-6-0','FGOALS-g2','FGOALS-s2','HadCM3','HadGEM2-CC','IPSL-CM5A-LR','MIROC4h','MIROC-ESM-CHEM','MRI-CGCM3'], datum.value)]"},
       "fill":{"signal":"['transparent','transparent','transparent','#00BFFF','transparent','transparent','#FF6A6A','transparent','#548B54','transparent','transparent'][indexof(['OBS','CanESM2','CSIRO-Mk3-6-0','FGOALS-g2','FGOALS-s2','HadCM3','HadGEM2-CC','IPSL-CM5A-LR','MIROC4h','MIROC-ESM-CHEM','MRI-CGCM3'], datum.value)]"},
       "strokeWidth":{"value":1.5},"size":{"value":100},"opacity":{"value":1},"x":{"value":21},"y":{"value":8}}},
       "labels":{"update":{"x":{"value":53.5},"y":{"value":8},"baseline":{"value":"middle"}}}}}}
   }},
  {"transform":[{"filter":{"field":"model","oneOf":["MIROC4h","MIROC-ESM-CHEM","MRI-CGCM3"]}}],
   "mark":{"type":"line","strokeWidth":1.1},
   "encoding":{
    "x":{"field":"lag","type":"quantitative","axis":null},
    "y":{"field":"r","type":"quantitative","axis":null},
    "stroke":{"field":"model","type":"nominal","scale":{"domain":["MIROC4h","MIROC-ESM-CHEM","MRI-CGCM3"],"range":["#548B54","#708090","#40E0D0"]},
     "legend":{"title":null,"orient":"none","legendX":308,"legendY":17.5,"direction":"vertical","columns":1,"rowPadding":8.3,"padding":0,"labelFontSize":14,"labelColor":"black","labelLimit":400,"symbolSize":100,
      "encode":{"symbols":{"update":{
       "shape":{"signal":"['M-1.2,0H1.2M0,-1.2V1.2M-4,-0.14H4V0.14H-4Z','M-1,-1H1V1H-1ZM-4,-0.06H4V0.06H-4Z','M0,-1.05L0.8,0L0,1.05L-0.8,0ZM-4,-0.06H4V0.06H-4Z','M-1,-0.95L1.1,0L-1,0.95ZM-4,-0.06H4V0.06H-4Z','M0,-1.15L0.27,-0.373L1.094,-0.355L0.437,0.143L0.676,0.93L0,0.46L-0.676,0.93L-0.437,0.143L-1.094,-0.355L-0.27,-0.373ZM-4,-0.06H4V0.06H-4Z','M1.05,0A1.05,1.05,0,1,1,-1.05,0A1.05,1.05,0,1,1,1.05,0ZM-0.74,-0.74L0.74,0.74M-0.74,0.74L0.74,-0.74M-4,-0.06H4V0.06H-4Z','M-1.15,-1.15H1.15V1.15H-1.15ZM-4,-0.06H4V0.06H-4Z','M-1.1,-1L1.3,0L-1.1,1ZM-4,-0.06H4V0.06H-4Z','M0,-1L1,0.8H-1ZM-4,-0.06H4V0.06H-4Z','M1.3,-1.05L-1.3,0L1.3,1.05ZM-4,-0.06H4V0.06H-4Z','M0,-1.2V1.2M-1.04,-0.6L1.04,0.6M-1.04,0.6L1.04,-0.6M0.336,-1.02L0,-0.72L-0.336,-1.02M-0.336,1.02L0,0.72L0.336,1.02M1.051,-0.22L0.624,-0.36L0.715,-0.8M0.715,0.8L0.624,0.36L1.051,0.22M-0.715,0.8L-0.624,0.36L-1.051,0.22M-1.051,-0.22L-0.624,-0.36L-0.715,-0.8M-4,-0.06H4V0.06H-4Z'][indexof(['OBS','CanESM2','CSIRO-Mk3-6-0','FGOALS-g2','FGOALS-s2','HadCM3','HadGEM2-CC','IPSL-CM5A-LR','MIROC4h','MIROC-ESM-CHEM','MRI-CGCM3'], datum.value)]"},
       "stroke":{"signal":"['#000000','#FF0000','#A020F0','#00BFFF','#27408B','#CDC673','#FF6A6A','#00FF00','#548B54','#708090','#40E0D0'][indexof(['OBS','CanESM2','CSIRO-Mk3-6-0','FGOALS-g2','FGOALS-s2','HadCM3','HadGEM2-CC','IPSL-CM5A-LR','MIROC4h','MIROC-ESM-CHEM','MRI-CGCM3'], datum.value)]"},
       "fill":{"signal":"['transparent','transparent','transparent','#00BFFF','transparent','transparent','#FF6A6A','transparent','#548B54','transparent','transparent'][indexof(['OBS','CanESM2','CSIRO-Mk3-6-0','FGOALS-g2','FGOALS-s2','HadCM3','HadGEM2-CC','IPSL-CM5A-LR','MIROC4h','MIROC-ESM-CHEM','MRI-CGCM3'], datum.value)]"},
       "strokeWidth":{"value":1.5},"size":{"value":100},"opacity":{"value":1},"x":{"value":21},"y":{"value":8}}},
       "labels":{"update":{"x":{"value":53.5},"y":{"value":8},"baseline":{"value":"middle"}}}}}}
   }},
  {"mark":{"type":"point","size":100,"strokeWidth":1.2,"opacity":1},
   "encoding":{
    "x":{"field":"lag","type":"quantitative","axis":null},
    "y":{"field":"r","type":"quantitative","axis":null},
    "stroke":{"field":"model","type":"nominal","scale":{"domain":["CSIRO-Mk3-6-0","FGOALS-g2","FGOALS-s2","HadCM3","HadGEM2-CC","IPSL-CM5A-LR","MIROC4h","MIROC-ESM-CHEM","MRI-CGCM3","OBS","CanESM2"],"range":["#A020F0","#00BFFF","#27408B","#CDC673","#FF6A6A","#00FF00","#548B54","#708090","#40E0D0","#000000","#FF0000"]},"legend":null},
    "fill":{"field":"model","type":"nominal","scale":{"domain":["FGOALS-g2","FGOALS-s2","HadCM3","HadGEM2-CC","IPSL-CM5A-LR","MIROC4h","MIROC-ESM-CHEM","MRI-CGCM3","OBS","CanESM2","CSIRO-Mk3-6-0"],"range":["#00BFFF","transparent","transparent","#FF6A6A","transparent","#548B54","transparent","transparent","transparent","transparent","transparent"]},"legend":null},
    "shape":{"field":"model","type":"nominal","scale":{"domain":["OBS","CanESM2","CSIRO-Mk3-6-0","FGOALS-g2","FGOALS-s2","HadCM3","HadGEM2-CC","IPSL-CM5A-LR","MIROC4h","MIROC-ESM-CHEM","MRI-CGCM3"],"range":["M-1.2,0H1.2M0,-1.2V1.2","M-1,-1H1V1H-1Z","M0,-1.05L0.8,0L0,1.05L-0.8,0Z","M-1,-0.95L1.1,0L-1,0.95Z","M0,-1.15L0.27,-0.373L1.094,-0.355L0.437,0.143L0.676,0.93L0,0.46L-0.676,0.93L-0.437,0.143L-1.094,-0.355L-0.27,-0.373Z","M1.05,0A1.05,1.05,0,1,1,-1.05,0A1.05,1.05,0,1,1,1.05,0ZM-0.74,-0.74L0.74,0.74M-0.74,0.74L0.74,-0.74","M-1.15,-1.15H1.15V1.15H-1.15Z","M-1.1,-1L1.3,0L-1.1,1Z","M0,-1L1,0.8H-1Z","M1.3,-1.05L-1.3,0L1.3,1.05Z","M0,-1.2V1.2M-1.04,-0.6L1.04,0.6M-1.04,0.6L1.04,-0.6M0.336,-1.02L0,-0.72L-0.336,-1.02M-0.336,1.02L0,0.72L0.336,1.02M1.051,-0.22L0.624,-0.36L0.715,-0.8M0.715,0.8L0.624,0.36L1.051,0.22M-0.715,0.8L-0.624,0.36L-1.051,0.22M-1.051,-0.22L-0.624,-0.36L-0.715,-0.8"]},"legend":null}
   }},
  {"data":{"values":[{}]},"mark":{"type":"text","text":"SST leads","fontSize":17,"baseline":"middle","align":"center","color":"black"},"encoding":{"x":{"datum":-3,"type":"quantitative","axis":null},"y":{"datum":-0.9,"type":"quantitative","axis":null}}},
  {"data":{"values":[{}]},"mark":{"type":"text","text":"PR leads","fontSize":17,"baseline":"middle","align":"center","color":"black"},"encoding":{"x":{"datum":3,"type":"quantitative","axis":null},"y":{"datum":-0.9,"type":"quantitative","axis":null}}}
 ]
}
]
}
